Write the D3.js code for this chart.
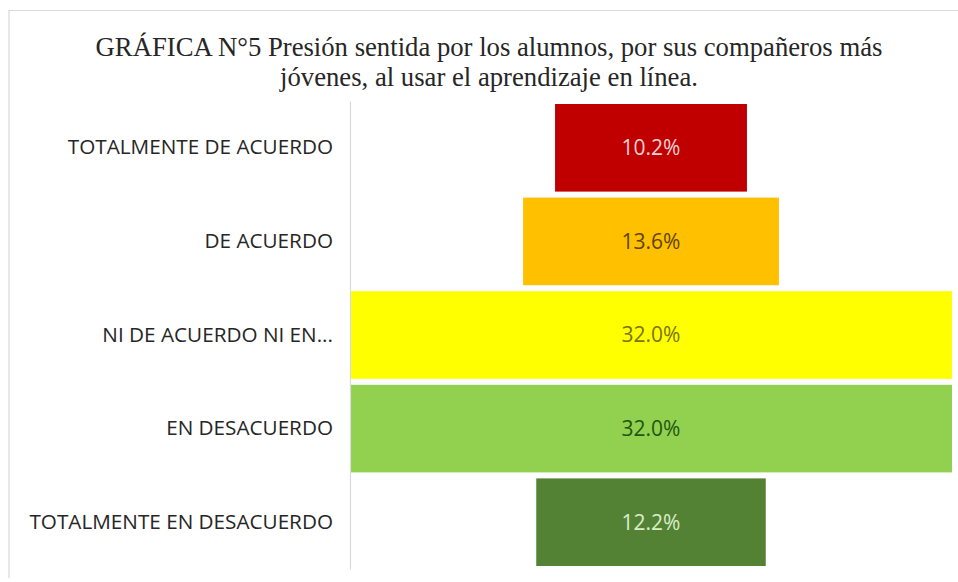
<!DOCTYPE html>
<html>
<head>
<meta charset="utf-8">
<script src="https://cdn.jsdelivr.net/npm/d3@7"></script>
<style>
  html, body { margin: 0; padding: 0; background: #fff; }
  svg { display: block; }
</style>
</head>
<body>
<svg id="chart" width="958" height="582"></svg>
<script>
// Response categories, top to bottom
const categories = [
  "TOTALMENTE DE ACUERDO",
  "DE ACUERDO",
  "NI DE ACUERDO NI EN...",
  "EN DESACUERDO",
  "TOTALMENTE EN DESACUERDO"
];
// Share of students per response (%)
const values = [10.2, 13.6, 32.0, 32.0, 12.2];
const barColors = ["#c00000", "#ffc000", "#ffff00", "#92d050", "#548235"];
const labelColors = ["#f6d2d2", "#5e4500", "#7a7400", "#23560f", "#d8efc6"];
const titleLines = [
  "GRÁFICA N°5 Presión sentida por los alumnos, por sus compañeros más",
  "jóvenes, al usar el aprendizaje en línea."
];

const svg = d3.select("#chart");

// Chart frame
svg.append("line").attr("x1", 9).attr("x2", 958).attr("y1", 10.5).attr("y2", 10.5)
  .attr("stroke", "#d9d9d9").attr("stroke-width", 1.2);
svg.append("line").attr("x1", 9).attr("x2", 9).attr("y1", 10).attr("y2", 578)
  .attr("stroke", "#d9d9d9").attr("stroke-width", 1.2);

// Title
svg.append("g").selectAll("text").data(titleLines).join("text")
  .attr("x", 489)
  .attr("y", (d, i) => 56 + i * 30)
  .attr("text-anchor", "middle")
  .attr("font-family", "'Liberation Serif', 'Times New Roman', serif")
  .attr("font-size", 26.7)
  .attr("fill", "#262626")
  .text(d => d);

// Scales
const axisX = 350, plotRight = 952;
const center = (axisX + plotRight) / 2;
const half = d3.scaleLinear()
  .domain([0, d3.max(values)])
  .range([0, (plotRight - axisX) / 2]);
const y = d3.scaleBand()
  .domain(categories)
  .range([101, 569])
  .paddingInner(0.064)
  .paddingOuter(0.032);

const data = categories.map((c, i) => ({ c, v: values[i], i }));

// Bars, centred on the plot area
svg.append("g").selectAll("rect").data(data).join("rect")
  .attr("x", d => center - half(d.v))
  .attr("width", d => 2 * half(d.v))
  .attr("y", d => y(d.c))
  .attr("height", y.bandwidth())
  .attr("fill", d => barColors[d.i]);

// Value labels
svg.append("g").selectAll("text").data(data).join("text")
  .attr("x", center)
  .attr("y", d => y(d.c) + y.bandwidth() / 2)
  .attr("dy", "0.35em")
  .attr("text-anchor", "middle")
  .attr("font-family", "'Open Sans', sans-serif")
  .attr("font-size", 21)
  .attr("fill", d => labelColors[d.i])
  .text(d => d.v.toFixed(1) + "%");

// Category axis
const axis = svg.append("g")
  .attr("transform", `translate(${axisX},0)`)
  .call(d3.axisLeft(y).tickSize(0).tickPadding(17));
axis.select(".domain").attr("stroke", "#d9d9d9").attr("stroke-width", 1.2);
axis.selectAll("text")
  .attr("font-family", "'Open Sans', sans-serif")
  .attr("font-size", 20.7)
  .attr("fill", "#262626");
</script>
</body>
</html>
